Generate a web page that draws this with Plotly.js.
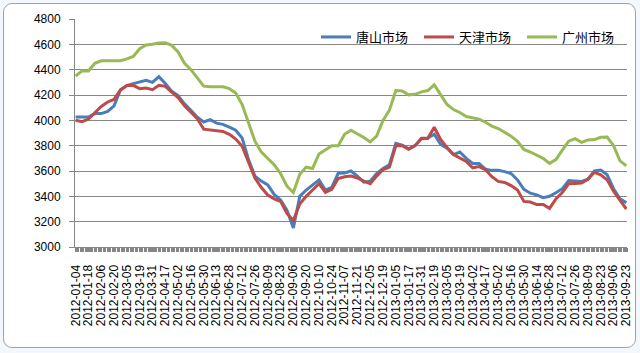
<!DOCTYPE html>
<html>
<head>
<meta charset="utf-8">
<script src="https://cdn.plot.ly/plotly-3.0.1.min.js"></script>
<style>
  html, body { margin: 0; padding: 0; background: #ffffff; }
  #wrap { position: relative; width: 640px; height: 353px; overflow: hidden; background: #f4f7fb; }
  #frame { position: absolute; left: 3px; top: 3px; width: 631px; height: 343px; border: 1px solid #9aa3ad; border-radius: 9px; background: #ffffff; }
  #chart { position: absolute; left: 0; top: 0; width: 640px; height: 353px; }
</style>
</head>
<body>
<div id="wrap">
  <div id="frame"></div>
  <div id="chart"></div>
</div>
<script>
// Category tick labels (every 10th trading day)
const tickLabels = [
  "2012-01-04","2012-01-18","2012-02-06","2012-02-20","2012-03-05","2012-03-19","2012-03-31","2012-04-17",
  "2012-05-02","2012-05-16","2012-05-30","2012-06-13","2012-06-28","2012-07-12","2012-07-26","2012-08-09",
  "2012-08-23","2012-09-06","2012-09-20","2012-10-10","2012-10-24","2012-11-07","2012-11-21","2012-12-05",
  "2012-12-19","2013-01-05","2013-01-17","2013-01-31","2013-02-19","2013-03-05","2013-03-19","2013-04-02",
  "2013-04-17","2013-05-02","2013-05-16","2013-05-30","2013-06-14","2013-06-28","2013-07-12","2013-07-26",
  "2013-08-09","2013-08-23","2013-09-06","2013-09-23"
];
const labelStep = 10;   // trading days between tick labels
const sampleStep = 5;   // trading days between sampled values below

const seriesNames = ["唐山市场", "天津市场", "广州市场"];

// 唐山市场 (sampled every 5 trading days)
const tangshan = [
  4026,4026,4026,4053,4053,4070,4115,4240,4275,4290,4305,4316,4300,4345,4290,4230,
  4195,4130,4080,4025,3987,4005,3978,3968,3947,3922,3860,3690,3560,3520,3490,3415,
  3372,3290,3150,3400,3450,3490,3530,3449,3470,3582,3585,3600,3560,3512,3520,3580,
  3620,3650,3818,3805,3775,3800,3858,3860,3890,3810,3780,3730,3750,3700,3660,3660,
  3615,3605,3605,3595,3580,3530,3455,3425,3412,3390,3400,3428,3460,3525,3520,3518,
  3535,3600,3607,3570,3460,3380,3350
];
// 天津市场
const tianjin = [
  4000,3990,4010,4060,4110,4145,4165,4240,4275,4276,4250,4255,4242,4276,4268,4222,
  4180,4115,4065,4013,3930,3924,3920,3912,3890,3852,3795,3670,3545,3470,3410,3380,
  3360,3265,3210,3340,3400,3450,3500,3432,3455,3540,3555,3560,3545,3520,3500,3560,
  3610,3630,3800,3800,3772,3800,3855,3858,3945,3850,3785,3730,3700,3675,3625,3635,
  3610,3555,3518,3510,3485,3450,3360,3355,3335,3335,3305,3380,3430,3500,3502,3505,
  3535,3590,3570,3530,3440,3370,3300
];
// 广州市场
const guangzhou = [
  4350,4390,4390,4450,4470,4470,4470,4470,4485,4505,4565,4595,4600,4610,4612,4592,
  4540,4450,4400,4330,4270,4265,4265,4265,4250,4215,4125,3975,3835,3750,3698,3650,
  3580,3480,3430,3575,3630,3620,3735,3770,3800,3800,3890,3922,3895,3865,3830,3875,
  4000,4080,4235,4232,4201,4205,4225,4235,4280,4205,4125,4085,4062,4030,4018,4010,
  3985,3955,3935,3905,3875,3835,3770,3750,3725,3700,3660,3690,3765,3835,3855,3826,
  3845,3848,3866,3868,3800,3680,3640
];

const seriesValues = [tangshan, tianjin, guangzhou];
const seriesColors = ["#4A7EBB", "#BE4B48", "#98B954"];

const nCategories = (tickLabels.length - 1) * labelStep + 1;

const traces = seriesValues.map((vals, s) => ({
  type: "scatter",
  mode: "lines",
  name: seriesNames[s],
  x: vals.map((_, i) => i * sampleStep),
  y: vals,
  line: { color: seriesColors[s], width: 3 },
  hoverinfo: "skip"
}));

const tickvals = tickLabels.map((_, i) => i * labelStep);

const layout = {
  width: 640,
  height: 353,
  margin: { l: 75, r: 13, t: 19, b: 106 },
  paper_bgcolor: "rgba(0,0,0,0)",
  plot_bgcolor: "#ffffff",
  font: { family: "Liberation Sans, Arial, sans-serif", size: 12, color: "#000000" },
  showlegend: true,
  // white legend box covering the top gridlines (Excel style)
  shapes: [{
    type: "rect", xref: "paper", yref: "paper",
    x0: 0.4167, x1: 0.9728, y0: 0.835, y1: 1.01,
    fillcolor: "#ffffff", line: { width: 0 }, layer: "between"
  }],
  legend: {
    orientation: "h",
    x: 0.4366, xanchor: "left",
    y: 0.921, yanchor: "middle",
    bgcolor: "rgba(0,0,0,0)",
    borderwidth: 0,
    font: { family: "Noto Sans CJK SC, sans-serif", size: 13, color: "#000000" },
    itemwidth: 30,
    entrywidth: 58,
    entrywidthmode: "pixels"
  },
  xaxis: {
    range: [-0.5, nCategories - 0.5],
    tickmode: "array",
    tickvals: tickvals,
    ticktext: tickLabels,
    tickangle: -90,
    tickfont: { size: 12, color: "#000000" },
    ticks: "outside",
    ticklen: 4,
    tickcolor: "#868686",
    ticklabelstandoff: 8,
    minor: { dtick: 1, tick0: 0.5, ticks: "outside", ticklen: 4, tickcolor: "#868686", showgrid: false },
    showgrid: false,
    zeroline: false,
    showline: true,
    linecolor: "#868686",
    linewidth: 1,
    fixedrange: true
  },
  yaxis: {
    range: [3000, 4800],
    dtick: 200,
    tick0: 3000,
    tickfont: { size: 12, color: "#000000" },
    ticks: "outside",
    ticklen: 5,
    tickcolor: "#868686",
    ticklabelstandoff: 6,
    showgrid: true,
    gridcolor: "#868686",
    gridwidth: 1,
    zeroline: false,
    showline: true,
    linecolor: "#868686",
    linewidth: 1,
    fixedrange: true
  }
};

Plotly.newPlot("chart", traces, layout, { displayModeBar: false, staticPlot: true });
</script>
</body>
</html>
